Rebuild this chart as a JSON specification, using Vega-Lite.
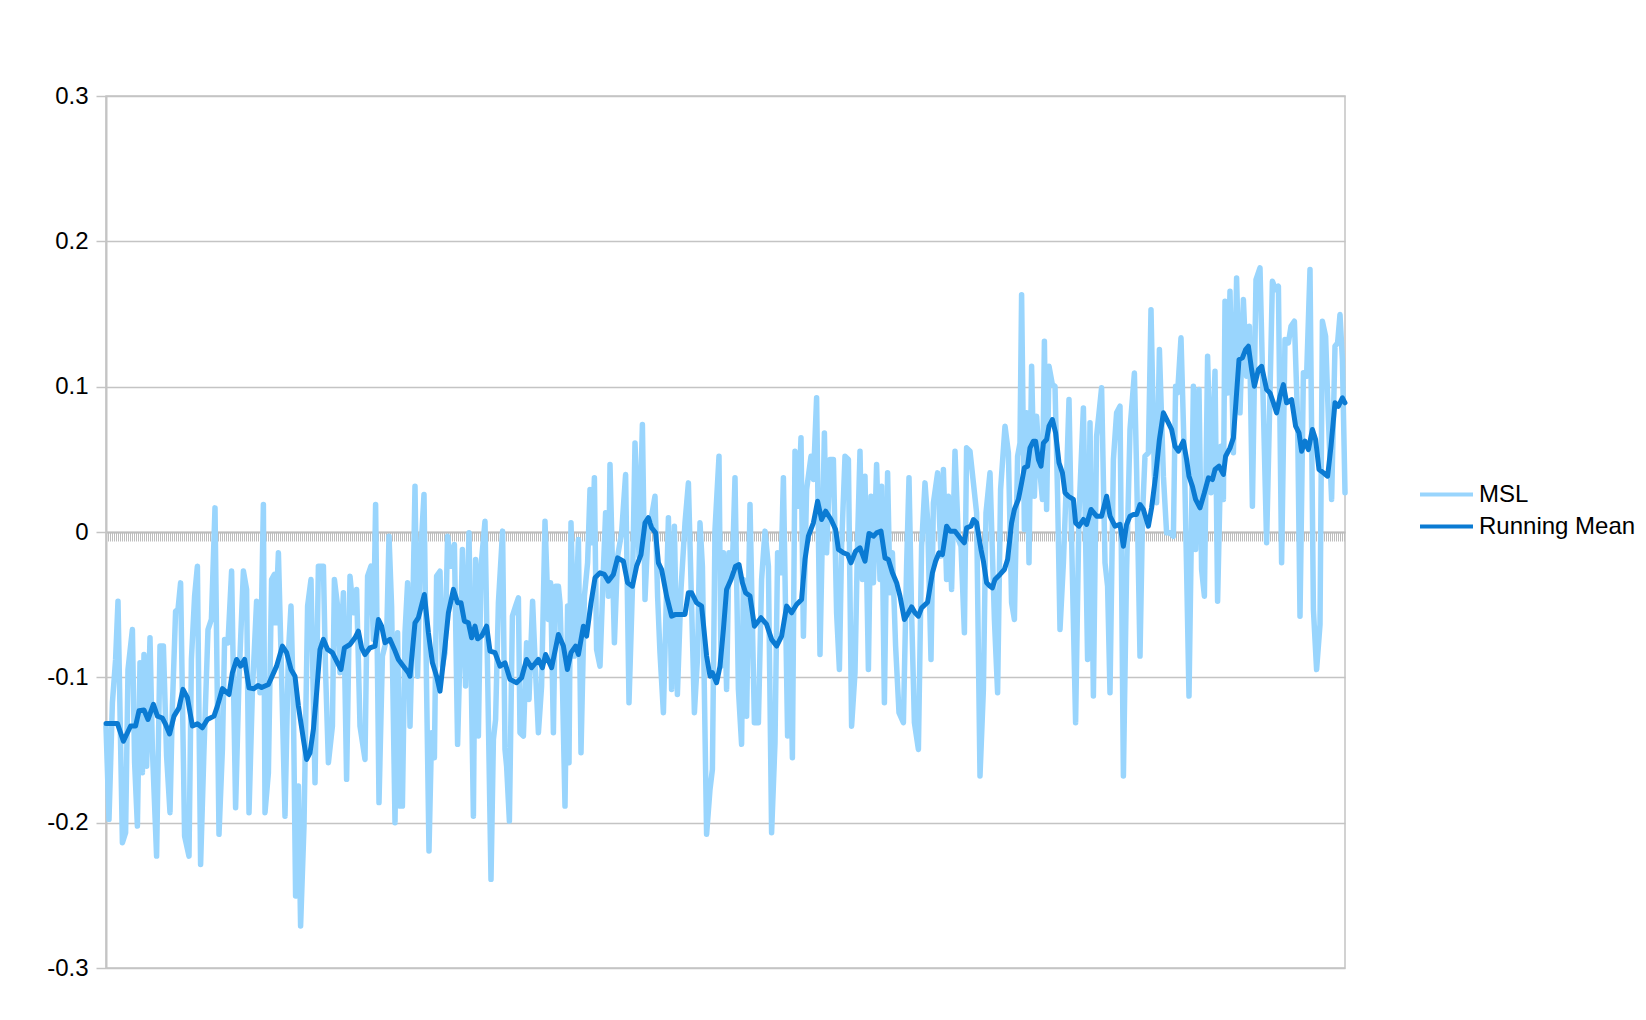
{
"$schema": "https://vega.github.io/schema/vega-lite/v6.json",
"width": 1239,
"height": 872,
"autosize": {"type": "none"},
"padding": {"left": 106, "top": 96, "right": 301, "bottom": 52},
"background": "white",
"config": {"view": {"stroke": "#c4c4c4", "strokeWidth": 1.5}, "font": "Liberation Sans"},
"datasets": {
"msl": [
{"t":0,"v":-0.1336},{"t":1.5,"v":-0.1977},{"t":3.2,"v":-0.1175},{"t":4.8,"v":-0.0877},{"t":6,"v":-0.0476},{"t":8.2,"v":-0.2138},{"t":9.8,"v":-0.2069},{"t":11,"v":-0.0946},{"t":13.2,"v":-0.0671},{"t":14.3,"v":-0.1587},{"t":15.7,"v":-0.2023},{"t":17,"v":-0.0899},{"t":18.2,"v":-0.1656},{"t":19,"v":-0.0843},{"t":20.3,"v":-0.1611},{"t":22,"v":-0.0728},{"t":23.2,"v":-0.1496},{"t":25.3,"v":-0.223},{"t":27,"v":-0.0785},{"t":28.7,"v":-0.0785},{"t":30.3,"v":-0.1542},{"t":32,"v":-0.1931},{"t":33.2,"v":-0.1198},{"t":34.8,"v":-0.0545},{"t":36,"v":-0.0533},{"t":37.3,"v":-0.035},{"t":39.3,"v":-0.2092},{"t":41.5,"v":-0.223},{"t":42.7,"v":-0.0877},{"t":44.3,"v":-0.0442},{"t":45.7,"v":-0.0235},{"t":47.3,"v":-0.2287},{"t":49,"v":-0.1496},{"t":51,"v":-0.0671},{"t":52.7,"v":-0.0602},{"t":54.5,"v":0.0166},{"t":56.5,"v":-0.208},{"t":58.2,"v":-0.1496},{"t":59.3,"v":-0.0739},{"t":61,"v":-0.0762},{"t":62.8,"v":-0.0269},{"t":64.8,"v":-0.1897},{"t":66.5,"v":-0.1014},{"t":68.7,"v":-0.0269},{"t":70.3,"v":-0.0395},{"t":71.5,"v":-0.1931},{"t":73.2,"v":-0.1095},{"t":75.3,"v":-0.0476},
{"t":77,"v":-0.1106},{"t":78.7,"v":0.0189},{"t":79.5,"v":-0.1931},{"t":81.2,"v":-0.1656},{"t":82.8,"v":-0.0327},{"t":84.2,"v":-0.0292},{"t":84.8,"v":-0.0625},{"t":86.2,"v":-0.0143},{"t":87.5,"v":-0.0831},{"t":89.5,"v":-0.1955},{"t":91.2,"v":-0.0831},{"t":92.5,"v":-0.051},{"t":93.7,"v":-0.1198},{"t":94.8,"v":-0.2505},{"t":96.2,"v":-0.1748},{"t":97.3,"v":-0.2711},{"t":99,"v":-0.2023},{"t":100.8,"v":-0.051},{"t":102.5,"v":-0.0327},{"t":104.5,"v":-0.1725},{"t":106.2,"v":-0.0235},{"t":108.7,"v":-0.0235},{"t":109.8,"v":-0.0968},{"t":111.2,"v":-0.1587},{"t":113.2,"v":-0.1336},{"t":114.2,"v":-0.0327},{"t":115.8,"v":-0.051},{"t":117,"v":-0.0968},{"t":118.7,"v":-0.0418},{"t":120.3,"v":-0.1702},{"t":122,"v":-0.0304},{"t":123.7,"v":-0.0556},{"t":125.3,"v":-0.0395},{"t":127,"v":-0.1336},{"t":129.5,"v":-0.1565},{"t":130.8,"v":-0.0304},{"t":132.5,"v":-0.0235},{"t":133.7,"v":-0.0739},{"t":134.8,"v":0.0189},{"t":136.5,"v":-0.1862},{"t":138.2,"v":-0.0854},{"t":140.3,"v":-0.0739},{"t":141.5,"v":-0.0029},{"t":142.8,"v":-0.051},{"t":144.5,"v":-0.2},{"t":145.8,"v":-0.0693},{"t":147,"v":-0.1886},{"t":148.2,"v":-0.1886},{"t":149.5,"v":-0.0693},{"t":150.8,"v":-0.035},
{"t":152,"v":-0.1336},{"t":153.2,"v":-0.0693},{"t":154.5,"v":0.0315},{"t":155.8,"v":-0.0992},{"t":157,"v":-0.0235},{"t":159,"v":0.0258},{"t":160.3,"v":-0.1083},{"t":161.5,"v":-0.2195},{"t":162.8,"v":-0.1381},{"t":164.2,"v":-0.1553},{"t":165.3,"v":-0.0304},{"t":167,"v":-0.027},{"t":168.2,"v":-0.0923},{"t":169.5,"v":-0.0831},{"t":170.8,"v":-0.0029},{"t":172.5,"v":-0.0235},{"t":174.2,"v":-0.0086},{"t":175.8,"v":-0.1461},{"t":177,"v":-0.0831},{"t":178.2,"v":-0.012},{"t":179.8,"v":-0.106},{"t":181.5,"v":-0.0006},{"t":183.7,"v":-0.1955},{"t":184.8,"v":-0.0189},{"t":186.2,"v":-0.1404},{"t":187.5,"v":-0.0235},{"t":189.5,"v":0.0074},{"t":190.8,"v":-0.0968},{"t":192.5,"v":-0.239},{"t":193.7,"v":-0.1427},{"t":194.8,"v":-0.129},{"t":196.2,"v":-0.0487},{"t":198.3,"v":0.0006},{"t":199.5,"v":-0.1496},{"t":200.3,"v":-0.1611},{"t":201.7,"v":-0.1989},{"t":203.2,"v":-0.0579},{"t":204.8,"v":-0.051},{"t":206.2,"v":-0.0453},{"t":207,"v":-0.1381},{"t":208.7,"v":-0.1404},{"t":210.3,"v":-0.0762},{"t":211.5,"v":-0.1152},{"t":213.3,"v":-0.0476},{"t":214.8,"v":-0.0968},{"t":216.2,"v":-0.1381},{"t":217.8,"v":-0.106},{"t":219.5,"v":0.0074},{"t":221.2,"v":-0.0602},{"t":222.3,"v":-0.035},{"t":223.7,"v":-0.1381},{"t":224.8,"v":-0.0373},{"t":226.2,"v":-0.0373},
{"t":227,"v":-0.0487},{"t":228.2,"v":-0.1037},{"t":229.5,"v":-0.1886},{"t":230.8,"v":-0.051},{"t":231.5,"v":-0.1587},{"t":232.5,"v":0.0063},{"t":234.2,"v":-0.0854},{"t":236.2,"v":-0.0052},{"t":237.5,"v":-0.1519},{"t":239.2,"v":-0.0442},{"t":240.8,"v":-0.0212},{"t":242,"v":0.0292},{"t":243.2,"v":-0.0074},{"t":244.2,"v":0.0373},{"t":245.3,"v":-0.0808},{"t":247,"v":-0.0923},{"t":248.7,"v":-0.0258},{"t":249.8,"v":0.0132},{"t":251.2,"v":-0.0442},{"t":252,"v":0.0464},{"t":254.2,"v":-0.0762},{"t":255.8,"v":-0.0166},{"t":257.8,"v":-0.0006},{"t":259.8,"v":0.0395},{"t":261.5,"v":-0.1175},{"t":263.2,"v":-0.0395},{"t":264.5,"v":0.0613},{"t":266.5,"v":-0.0166},{"t":268.2,"v":0.0739},{"t":269.5,"v":-0.0464},{"t":271.2,"v":0.0063},{"t":272.5,"v":0.0086},{"t":274.5,"v":0.0246},{"t":275.8,"v":-0.0442},{"t":277,"v":-0.0831},{"t":278.7,"v":-0.1243},{"t":281.2,"v":0.0098},{"t":282.8,"v":-0.1083},{"t":284.2,"v":0.004},{"t":285.7,"v":-0.1118},{"t":287.5,"v":-0.0395},{"t":289.5,"v":0.0063},{"t":291.2,"v":0.0338},{"t":294.2,"v":-0.1243},{"t":295.8,"v":-0.0854},{"t":297,"v":0.0063},{"t":298.2,"v":-0.0235},{"t":300.3,"v":-0.208},{"t":302,"v":-0.1771},
{"t":303.2,"v":-0.1633},{"t":304.5,"v":0.0017},{"t":306.5,"v":0.0521},{"t":307.5,"v":-0.0923},{"t":308.7,"v":-0.0143},{"t":310.3,"v":-0.1083},{"t":311.5,"v":-0.0143},{"t":313.2,"v":-0.0235},{"t":314.5,"v":0.0373},{"t":316.2,"v":-0.1083},{"t":317.8,"v":-0.1461},{"t":318.7,"v":-0.0327},{"t":320.3,"v":-0.1267},{"t":322,"v":0.0189},{"t":324.2,"v":-0.1312},{"t":326.2,"v":-0.1312},{"t":327.8,"v":-0.0327},{"t":329.5,"v":0.0006},{"t":331.2,"v":-0.0235},{"t":332.8,"v":-0.2069},{"t":334.5,"v":-0.145},{"t":335.8,"v":-0.0143},{"t":337.5,"v":-0.0281},{"t":338.7,"v":0.0373},{"t":340.8,"v":-0.1404},{"t":342,"v":-0.0556},{"t":343.2,"v":-0.1553},{"t":344.5,"v":0.0556},{"t":346.2,"v":0.0177},{"t":347.5,"v":0.0648},{"t":348.7,"v":-0.0717},{"t":350.3,"v":0.0292},{"t":352.5,"v":0.0521},{"t":353.7,"v":0.0361},{"t":355.3,"v":0.0923},{"t":357,"v":-0.0843},{"t":359.2,"v":0.0682},{"t":360.3,"v":-0.0143},{"t":362,"v":0.0499},{"t":363.7,"v":0.0499},{"t":365.3,"v":-0.0556},{"t":366.7,"v":-0.0946},{"t":367.8,"v":-0.0098},{"t":369.5,"v":0.0521},{"t":371.2,"v":0.0499},{"t":372.8,"v":-0.1336},{"t":374.5,"v":-0.0968},{"t":375.8,"v":-0.0052},
{"t":377,"v":0.0556},{"t":378.2,"v":-0.0327},{"t":379.5,"v":0.0384},{"t":381.2,"v":-0.0946},{"t":382.5,"v":0.0246},{"t":383.7,"v":-0.0349},{"t":385.3,"v":0.0464},{"t":387,"v":-0.0327},{"t":387.8,"v":0.0315},{"t":389.2,"v":-0.1175},{"t":390.8,"v":0.0407},{"t":392,"v":-0.0418},{"t":393.2,"v":-0.0143},{"t":394.8,"v":-0.0785},{"t":396.5,"v":-0.1243},{"t":398.7,"v":-0.1312},{"t":400.3,"v":-0.0235},{"t":401.5,"v":0.0373},{"t":402.8,"v":-0.0556},{"t":404.2,"v":-0.1312},{"t":406.2,"v":-0.1496},{"t":407.8,"v":-0.0098},{"t":409.5,"v":0.0338},{"t":410.8,"v":0.0086},{"t":412.5,"v":-0.0877},{"t":413.7,"v":0.0201},{"t":415.8,"v":0.0407},{"t":417.5,"v":-0.0166},{"t":418.7,"v":0.043},{"t":420.3,"v":-0.0327},{"t":421.2,"v":0.0246},{"t":422.8,"v":-0.0395},{"t":424.5,"v":0.0556},{"t":426.2,"v":-0.0052},{"t":427.5,"v":-0.0098},{"t":429.2,"v":-0.0693},{"t":430.3,"v":0.0579},{"t":432,"v":0.0556},{"t":433.7,"v":0.0338},{"t":435.3,"v":0.0132},{"t":437,"v":-0.1679},{"t":438.7,"v":-0.1083},{"t":440,"v":0.0132},{"t":442,"v":0.0407},{"t":444.2,"v":-0.0602},{"t":445.8,"v":-0.1106},{"t":447.3,"v":0.0292},{"t":449.5,"v":0.0728},{"t":451.2,"v":0.0544},
{"t":452.8,"v":-0.0487},{"t":454.2,"v":-0.0602},{"t":455.8,"v":0.0522},{"t":457,"v":0.0613},{"t":457.8,"v":0.1633},{"t":459.2,"v":0.0017},{"t":460.3,"v":0.082},{"t":461.5,"v":-0.0212},{"t":462.8,"v":0.114},{"t":464.2,"v":0.0246},{"t":465.3,"v":0.0796},{"t":467,"v":0.0407},{"t":468.2,"v":0.0224},{"t":469.2,"v":0.1312},{"t":470.3,"v":0.0155},{"t":471.5,"v":0.114},{"t":473.2,"v":0.1014},{"t":474.5,"v":0.1003},{"t":475.8,"v":0.0246},{"t":477,"v":-0.0671},{"t":478.7,"v":-0.0212},{"t":480.3,"v":0.0384},{"t":481.5,"v":0.0911},{"t":482.8,"v":-0.0052},{"t":484.8,"v":-0.1312},{"t":486.5,"v":0.0132},{"t":488.7,"v":0.0854},{"t":490.8,"v":-0.0877},{"t":492,"v":0.0751},{"t":493.7,"v":-0.1129},{"t":495.3,"v":0.0659},{"t":497.8,"v":0.0992},{"t":499.5,"v":-0.0212},{"t":500.8,"v":-0.0373},{"t":502,"v":-0.1106},{"t":503.7,"v":0.0499},{"t":505.3,"v":0.082},{"t":507,"v":0.0866},{"t":508.7,"v":-0.1679},{"t":510.3,"v":-0.0258},{"t":512,"v":0.0705},{"t":514.2,"v":0.1094},{"t":515.3,"v":0.043},{"t":517,"v":-0.0854},{"t":518.3,"v":0.0132},{"t":519.5,"v":0.0522},{"t":521.2,"v":0.0545},{"t":522.5,"v":0.153},{"t":524.2,"v":0.0384},{"t":525.3,"v":0.0201},{"t":526.7,"v":0.1255},
{"t":528.7,"v":0.0384},{"t":530.3,"v":-0.0006},{"t":532,"v":-0.0006},{"t":533.7,"v":-0.0029},{"t":534.8,"v":0.1003},{"t":535.8,"v":0.0957},{"t":537.5,"v":0.1336},{"t":539.2,"v":0.0499},{"t":540.3,"v":-0.0258},{"t":541.5,"v":-0.1129},{"t":542.5,"v":-0.0189},{"t":543.7,"v":0.1003},{"t":544.8,"v":-0.012},{"t":546.5,"v":0.098},{"t":547.8,"v":-0.0258},{"t":549.2,"v":-0.0442},{"t":550.8,"v":0.1209},{"t":552.5,"v":0.027},{"t":554.5,"v":0.1106},{"t":555.8,"v":-0.0476},{"t":557.5,"v":0.059},{"t":558.7,"v":0.0224},{"t":559.5,"v":0.1588},{"t":560.8,"v":0.0957},{"t":562,"v":0.1656},{"t":563.7,"v":0.0545},{"t":565.3,"v":0.1748},{"t":567,"v":0.082},{"t":568.7,"v":0.1599},{"t":570.3,"v":0.1072},{"t":571.7,"v":0.1415},{"t":573.2,"v":0.0177},{"t":575,"v":0.1737},{"t":577,"v":0.1817},{"t":578.7,"v":0.0843},{"t":580.3,"v":-0.0074},{"t":582,"v":0.0957},{"t":583.2,"v":0.1725},{"t":584.8,"v":0.1668},{"t":586.2,"v":0.1691},{"t":587.8,"v":-0.0212},{"t":589.5,"v":0.1324},{"t":591.2,"v":0.1301},{"t":592.5,"v":0.1415},{"t":594.2,"v":0.145},{"t":595.8,"v":0.0774},{"t":597,"v":-0.0579},{"t":598.7,"v":0.1095},{"t":600.3,"v":0.1072},{"t":602,"v":0.1806},{"t":603.7,"v":-0.0533},{"t":605.3,"v":-0.0946},{"t":607,"v":-0.0636},{"t":608.2,"v":0.145},{"t":609.8,"v":0.1347},{"t":611.2,"v":0.0774},{"t":612.8,"v":0.0224},{"t":614.5,"v":0.1278},{"t":615.8,"v":0.1301},{"t":617,"v":0.1496},{"t":618.2,"v":0.1186},{"t":619.5,"v":0.027}
],
"mean": [
{"t":0,"v":-0.1317},{"t":5.7,"v":-0.1317},{"t":8.7,"v":-0.144},{"t":12.3,"v":-0.1335},{"t":14.8,"v":-0.1335},{"t":16.5,"v":-0.123},{"t":19,"v":-0.1225},{"t":21,"v":-0.129},{"t":23.7,"v":-0.1186},{"t":25.7,"v":-0.1267},{"t":28.2,"v":-0.128},{"t":29.8,"v":-0.1324},{"t":31.8,"v":-0.139},{"t":34,"v":-0.1267},{"t":36.5,"v":-0.121},{"t":38.5,"v":-0.1083},{"t":40.7,"v":-0.114},{"t":43.2,"v":-0.1335},{"t":45.7,"v":-0.132},{"t":48.2,"v":-0.1347},{"t":50.7,"v":-0.129},{"t":54,"v":-0.1267},{"t":55.7,"v":-0.1198},{"t":58.2,"v":-0.1078},{"t":61.5,"v":-0.1118},{"t":63.2,"v":-0.0968},{"t":65.3,"v":-0.0877},{"t":67.3,"v":-0.0923},{"t":69.3,"v":-0.0877},{"t":71.5,"v":-0.1072},{"t":74,"v":-0.1078},{"t":76,"v":-0.1056},{"t":77.8,"v":-0.107},{"t":81.2,"v":-0.1049},{"t":85.3,"v":-0.0923},{"t":88.2,"v":-0.0785},{"t":90.3,"v":-0.083},{"t":92.5,"v":-0.0946},{"t":94.5,"v":-0.0992},{"t":96.2,"v":-0.1198},{"t":98.7,"v":-0.1427},{"t":100.3,"v":-0.1565},{"t":102,"v":-0.1519},{"t":103.7,"v":-0.1358},{"t":105.3,"v":-0.1106},{"t":107,"v":-0.0808},{"t":108.7,"v":-0.0739},{"t":110.8,"v":-0.0808},{"t":113.2,"v":-0.083},{"t":115.3,"v":-0.0888},{"t":117.5,"v":-0.0946},{"t":119.2,"v":-0.0797},{"t":122,"v":-0.0774},{"t":124.5,"v":-0.0728},{"t":126.2,"v":-0.0682},{"t":127.8,"v":-0.0797},{"t":129.5,"v":-0.0843},{"t":132,"v":-0.0797},{"t":134.5,"v":-0.0785},{"t":136.2,"v":-0.0602},{"t":137.8,"v":-0.0648},{"t":139.5,"v":-0.0762},{"t":142,"v":-0.0739},{"t":144.2,"v":-0.0808},{"t":146.2,"v":-0.0877},{"t":148.7,"v":-0.0923},{"t":151.2,"v":-0.0968},{"t":152,"v":-0.0992},{"t":154.5,"v":-0.0625},{"t":156.2,"v":-0.059},{"t":159.2,"v":-0.043},{"t":161.2,"v":-0.0693},{"t":163.2,"v":-0.09},{"t":165.3,"v":-0.0992},{"t":167,"v":-0.1095},{"t":169.2,"v":-0.083},{"t":171.2,"v":-0.0556},{"t":173.7,"v":-0.0395},{"t":175.8,"v":-0.0487},{"t":177.5,"v":-0.0487},{"t":179.2,"v":-0.0613},{"t":181.2,"v":-0.0625},{"t":182.8,"v":-0.0728},{"t":184.5,"v":-0.0648},{"t":185.8,"v":-0.0735},{"t":187.8,"v":-0.0716},{"t":190.3,"v":-0.0648},{"t":192,"v":-0.082},{"t":194.5,"v":-0.083},{"t":197,"v":-0.0923},{"t":199.5,"v":-0.09},{"t":202,"v":-0.1014},{"t":205.3,"v":-0.1037},{"t":207.8,"v":-0.1003},{"t":210.3,"v":-0.0877},{"t":212.8,"v":-0.0934},{"t":216.2,"v":-0.0877},{"t":218.2,"v":-0.0934},{"t":219.8,"v":-0.0843},{"t":222.8,"v":-0.0934},{"t":226.2,"v":-0.0705},{"t":228.7,"v":-0.0785},{"t":230.7,"v":-0.0946},{"t":232.5,"v":-0.083},{"t":234.8,"v":-0.0785},{"t":236.2,"v":-0.0843},{"t":238.7,"v":-0.0648},{"t":240.3,"v":-0.0716},{"t":242.5,"v":-0.0487},{"t":244.5,"v":-0.0315},{"t":247,"v":-0.0281},{"t":249.2,"v":-0.0292},{"t":251.2,"v":-0.0338},{"t":253.7,"v":-0.0292},{"t":255.8,"v":-0.0178},{"t":258.7,"v":-0.0201},{"t":260.8,"v":-0.0349},{"t":263.2,"v":-0.0373},{"t":265.3,"v":-0.0235},{"t":267.5,"v":-0.0155},{"t":269.5,"v":0.0063},{"t":271.2,"v":0.0098},{"t":272.8,"v":0.0029},{"t":274.8,"v":-0.0006},{"t":276.2,"v":-0.0212},{"t":277.8,"v":-0.0258},{"t":280.3,"v":-0.0441},{"t":282.8,"v":-0.0579},{"t":284.8,"v":-0.0567},{"t":287,"v":-0.0567},{"t":289.5,"v":-0.0567},{"t":291.2,"v":-0.0418},{"t":292.8,"v":-0.0418},{"t":295.3,"v":-0.0487},{"t":297.8,"v":-0.051},{"t":300.3,"v":-0.0854},{"t":302,"v":-0.0992},{"t":303.2,"v":-0.0968},{"t":305.3,"v":-0.1037},{"t":307,"v":-0.0923},{"t":308.7,"v":-0.0671},{"t":310.3,"v":-0.0395},{"t":312.5,"v":-0.0327},{"t":314.8,"v":-0.0235},{"t":316.5,"v":-0.0224},{"t":318.2,"v":-0.0349},{"t":319.8,"v":-0.0418},{"t":322,"v":-0.0441},{"t":324.2,"v":-0.0648},{"t":327.5,"v":-0.059},{"t":330.3,"v":-0.0636},{"t":332.8,"v":-0.0739},{"t":335.3,"v":-0.0785},{"t":337.8,"v":-0.0716},{"t":340.3,"v":-0.051},{"t":342.8,"v":-0.0556},{"t":345.3,"v":-0.0499},{"t":347.8,"v":-0.0464},{"t":349.5,"v":-0.0189},{"t":351.2,"v":-0.0029},{"t":353.7,"v":0.0063},{"t":355.8,"v":0.0212},{"t":357.8,"v":0.0086},{"t":359.8,"v":0.0143},{"t":362.5,"v":0.0086},{"t":364.8,"v":0.0017},{"t":366.2,"v":-0.012},{"t":368.7,"v":-0.0143},{"t":370.8,"v":-0.0155},{"t":372.5,"v":-0.0212},{"t":374.8,"v":-0.0132},{"t":377,"v":-0.0109},{"t":379.5,"v":-0.0201},{"t":381.5,"v":-0.001},{"t":383.7,"v":-0.0029},{"t":385.3,"v":-0.0006},{"t":387.5,"v":0.0006},{"t":389.5,"v":-0.0178},{"t":391.2,"v":-0.0189},{"t":393.2,"v":-0.0281},{"t":395.3,"v":-0.0349},{"t":397,"v":-0.0441},{"t":399.2,"v":-0.0602},{"t":401.2,"v":-0.0556},{"t":402.8,"v":-0.0515},{"t":404.5,"v":-0.0556},{"t":406.2,"v":-0.0579},{"t":407.8,"v":-0.0522},{"t":410.8,"v":-0.0483},{"t":413.2,"v":-0.0281},{"t":414.8,"v":-0.0201},{"t":416.5,"v":-0.0143},{"t":418.2,"v":-0.0155},{"t":420.3,"v":0.004},{"t":422,"v":0.0006},{"t":424.5,"v":0.0006},{"t":427,"v":-0.004},{"t":429.2,"v":-0.0074},{"t":430.3,"v":0.0029},{"t":432.5,"v":0.004},{"t":433.7,"v":0.0086},{"t":435.3,"v":0.0063},{"t":437.5,"v":-0.012},{"t":438.7,"v":-0.0201},{"t":440.3,"v":-0.0349},{"t":442,"v":-0.0373},{"t":443.2,"v":-0.0384},{"t":444.5,"v":-0.0327},{"t":447,"v":-0.0292},{"t":449.2,"v":-0.0258},{"t":450.8,"v":-0.0189},{"t":452.8,"v":0.0063},{"t":454.2,"v":0.0155},{"t":456.2,"v":0.0224},{"t":457.8,"v":0.0338},{"t":459.2,"v":0.0442},{"t":460.8,"v":0.0453},{"t":462,"v":0.0579},{"t":463.7,"v":0.0625},{"t":464.8,"v":0.0625},{"t":466.2,"v":0.0499},{"t":467.5,"v":0.0453},{"t":468.7,"v":0.0613},{"t":470.3,"v":0.0636},{"t":471.5,"v":0.0728},{"t":473.2,"v":0.0774},{"t":474.8,"v":0.0682},{"t":476.5,"v":0.0476},{"t":478.2,"v":0.0407},{"t":479.5,"v":0.027},{"t":481.2,"v":0.0246},{"t":483.7,"v":0.0224},{"t":484.8,"v":0.0063},{"t":486.5,"v":0.004},{"t":488.7,"v":0.0086},{"t":490.3,"v":0.0052},{"t":492.5,"v":0.0155},{"t":495.3,"v":0.0109},{"t":497.8,"v":0.0109},{"t":500.3,"v":0.0246},{"t":502,"v":0.0109},{"t":504.5,"v":0.004},{"t":507,"v":0.0052},{"t":508.7,"v":-0.0098},{"t":510.3,"v":0.0052},{"t":512,"v":0.0109},{"t":513.7,"v":0.012},{"t":515.3,"v":0.012},{"t":517,"v":0.0189},{"t":518.7,"v":0.0155},{"t":521.2,"v":0.004},{"t":522.8,"v":0.0166},{"t":524.8,"v":0.0384},{"t":526.7,"v":0.0636},{"t":528.7,"v":0.082},{"t":531.2,"v":0.0751},{"t":532.8,"v":0.0705},{"t":534.5,"v":0.059},{"t":536.2,"v":0.0556},{"t":538.7,"v":0.0625},{"t":540.3,"v":0.0499},{"t":541.5,"v":0.0384},{"t":543.2,"v":0.0315},{"t":544.8,"v":0.0224},{"t":547,"v":0.0166},{"t":549.2,"v":0.027},{"t":551.2,"v":0.0373},{"t":553.2,"v":0.0361},{"t":554.5,"v":0.043},{"t":556.5,"v":0.0453},{"t":558.7,"v":0.0396},{"t":559.8,"v":0.0521},{"t":562,"v":0.0579},{"t":563.7,"v":0.0648},{"t":565.3,"v":0.0957},{"t":566.5,"v":0.1186},{"t":568.2,"v":0.1198},{"t":569.8,"v":0.1255},{"t":571.2,"v":0.1278},{"t":572.8,"v":0.1118},{"t":574.2,"v":0.1003},{"t":576.2,"v":0.1118},{"t":577.8,"v":0.114},{"t":580.3,"v":0.098},{"t":582,"v":0.0957},{"t":583.7,"v":0.0889},{"t":585.3,"v":0.082},{"t":587,"v":0.0934},{"t":588.7,"v":0.1014},{"t":590.3,"v":0.0889},{"t":592.8,"v":0.0911},{"t":594.8,"v":0.0728},{"t":596.5,"v":0.0682},{"t":597.8,"v":0.0556},{"t":599.5,"v":0.0625},{"t":601.2,"v":0.0567},{"t":603.2,"v":0.0705},{"t":604.8,"v":0.0636},{"t":606.5,"v":0.043},{"t":608.7,"v":0.0407},{"t":610.8,"v":0.0384},{"t":612.5,"v":0.059},{"t":614.5,"v":0.0889},{"t":616.2,"v":0.0865},{"t":618.2,"v":0.0923},{"t":619.5,"v":0.0889}
]
},
"encoding": {
"x": {"field": "t", "type": "quantitative", "scale": {"domain": [0, 619.5], "nice": false, "zero": false},
 "axis": {"orient": "bottom", "offset": -436, "title": null, "labels": false, "grid": false, "domainColor": "#bdbdbd", "domainWidth": 2, "tickColor": "#bdbdbd", "tickSize": 9, "tickWidth": 1, "tickCount": 620}},
"y": {"field": "v", "type": "quantitative", "scale": {"domain": [-0.3, 0.3], "nice": false, "zero": false},
 "axis": {"values": [-0.3, -0.2, -0.1, 0, 0.1, 0.2, 0.3], "title": null, "grid": true, "gridColor": "#c4c4c4", "gridWidth": 1.5, "domainColor": "#c4c4c4", "domainWidth": 2, "tickColor": "#c4c4c4", "tickSize": 10, "tickWidth": 1.5, "labelFontSize": 24, "labelColor": "#000000", "labelPadding": 8, "labelFont": "Liberation Sans", "labelExpr": "'' + datum.value"}}
},
"layer": [
{"data": {"name": "msl"},
 "mark": {"type": "line", "strokeWidth": 5.5, "strokeJoin": "round", "strokeCap": "round"},
 "encoding": {"color": {"datum": "MSL", "type": "nominal",
  "scale": {"domain": ["MSL", "Running Mean"], "range": ["#99d5fd", "#0b7bd3"]},
  "legend": {"title": null, "orient": "none", "legendX": 1325, "legendY": 383, "padding": 0, "symbolType": "M-2,0H2", "symbolSize": 702, "symbolStrokeWidth": 4, "labelFontSize": 24, "labelFont": "Liberation Sans", "labelColor": "#000000", "labelOffset": 17, "rowPadding": 4}}}},
{"data": {"name": "mean"},
 "mark": {"type": "line", "strokeWidth": 5, "strokeJoin": "round", "strokeCap": "round"},
 "encoding": {"color": {"datum": "Running Mean", "type": "nominal"}}}
]
}
